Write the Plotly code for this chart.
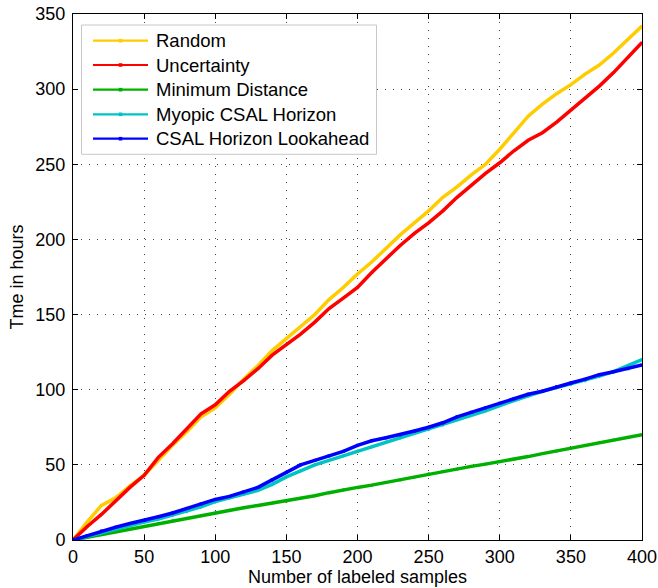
import plotly.graph_objects as go

samples = list(range(0, 401, 10))

random_t = [0, 12, 23, 28, 36, 43, 53, 63, 72, 82, 88, 97, 107, 116, 126, 134, 142, 150, 160, 168,
            177, 185, 194, 203, 211, 219, 228, 235, 243, 250, 260, 271, 282, 290, 297, 303, 310, 316,
            324, 333, 342]
uncertainty_t = [0, 9, 17, 26, 35, 43, 55, 64, 74, 84, 90, 99, 106, 114, 123, 130, 137, 145, 154, 161,
                 168, 178, 187, 196, 204, 211, 219, 228, 236, 244, 251, 259, 266, 271, 278, 286, 294,
                 302, 311, 321, 331]
min_dist_t = [0, 1.8, 3.7, 5.5, 7.4, 9.2, 11, 12.8, 14.5, 16.2, 18, 19.8, 21.5, 23, 24.5, 26, 27.8,
              29.5, 31.5, 33.5, 35, 36.5, 38.3, 40, 42, 44, 45.5, 47.2, 49, 50.5, 52, 53.8, 55.5, 57.5,
              59.3, 61, 63, 64.8, 66.5, 68.3, 70]
myopic_t = [0, 2.5, 5, 7.5, 10, 12, 14, 16.5, 19, 22, 25.5, 28, 30.5, 33, 37, 42, 46, 50, 53, 56, 59,
            62, 65, 68, 71, 73.5, 76.5, 80, 83, 86, 89.5, 93, 96, 99, 101.5, 103.5, 106, 109, 112, 116,
            120]
lookahead_t = [0, 3, 6, 8.5, 11, 13, 15.5, 18, 21, 24, 27, 29, 32, 35, 40, 45, 50, 53, 56, 59, 63, 66,
               68, 70, 72.5, 75, 78, 82, 85, 88, 91, 94, 97, 99, 102, 104.5, 107, 110, 112, 114, 116.5]

series_names = ["Random", "Uncertainty", "Minimum Distance", "Myopic CSAL Horizon",
                "CSAL Horizon Lookahead"]
series_values = [random_t, uncertainty_t, min_dist_t, myopic_t, lookahead_t]
series_colors = ["#FFCC00", "#FF0000", "#00B000", "#00C4C4", "#0000FF"]
series_symbols = ["triangle-down", "triangle-up", "circle", "diamond", "square"]

x_ticks = [0, 50, 100, 150, 200, 250, 300, 350, 400]
y_ticks = [0, 50, 100, 150, 200, 250, 300, 350]

# figure geometry; the page body margin is removed by the post script below
W, H = 658, 588
ML, MR, MT, MB = 73, 16, 14, 48
PW, PH = W - ML - MR, H - MT - MB


def px(page_x):
    return (page_x - ML) / PW


def py(page_y):
    return 1 - (page_y - MT) / PH


fig = go.Figure()
for name, vals, color, sym in zip(series_names, series_values, series_colors, series_symbols):
    fig.add_trace(go.Scatter(
        x=samples, y=vals, name=name, mode="lines+markers", showlegend=False,
        line=dict(color=color, width=3.5),
        marker=dict(symbol=sym, size=3, color=color),
    ))

font = "Liberation Sans, Arial, Helvetica, sans-serif"
axis_common = dict(
    showline=True, linecolor="black", linewidth=1, mirror="ticks",
    ticks="inside", ticklen=5, tickcolor="black",
    showgrid=True, gridcolor="#444444", gridwidth=1, griddash="1px,7px",
    zeroline=False, automargin=False, ticklabeloverflow="allow",
    tickfont=dict(size=18, color="black", family=font),
)

# legend box drawn in paper space
shapes = [dict(type="rect", xref="paper", yref="paper",
               x0=px(81.5), x1=px(376.5), y0=py(154.3), y1=py(25),
               line=dict(color="#C8C8C8", width=1), fillcolor="white", layer="above")]
annotations = []
entry_y = [40.7, 65, 89.7, 114.3, 138.7]
for name, color, yy in zip(series_names, series_colors, entry_y):
    shapes.append(dict(type="line", xref="paper", yref="paper",
                       x0=px(93), x1=px(148), y0=py(yy), y1=py(yy),
                       line=dict(color=color, width=2.2), layer="above"))
    shapes.append(dict(type="rect", xref="paper", yref="paper",
                       xsizemode="pixel", ysizemode="pixel",
                       xanchor=px(120.5), yanchor=py(yy),
                       x0=-1.8, x1=1.8, y0=-1.8, y1=1.8,
                       line=dict(color=color, width=0), fillcolor=color, layer="above"))
    annotations.append(dict(xref="paper", yref="paper", x=px(154), y=py(yy),
                            xanchor="left", yanchor="middle", showarrow=False,
                            text=name, font=dict(size=18.5, family=font, color="black")))

fig.update_layout(
    template="none",
    width=W, height=H,
    margin=dict(l=ML, r=MR, t=MT, b=MB),
    plot_bgcolor="white", paper_bgcolor="white",
    font=dict(family=font, color="black", size=18),
    xaxis=dict(range=[0, 400], tickvals=x_ticks, ticktext=[str(v) for v in x_ticks],
               title=dict(text="Number of labeled samples", font=dict(size=18), standoff=2),
               **axis_common),
    yaxis=dict(range=[0, 350], tickvals=y_ticks, ticktext=[str(v) for v in y_ticks],
               title=dict(text="Tme in hours", font=dict(size=18), standoff=7),
               ticklabelstandoff=3,
               **axis_common),
    shapes=shapes,
    annotations=annotations,
    showlegend=False,
)

fig.write_html("out.html", config={"displayModeBar": False},
               post_script="document.body.style.margin='0';document.body.style.overflow='hidden';")
